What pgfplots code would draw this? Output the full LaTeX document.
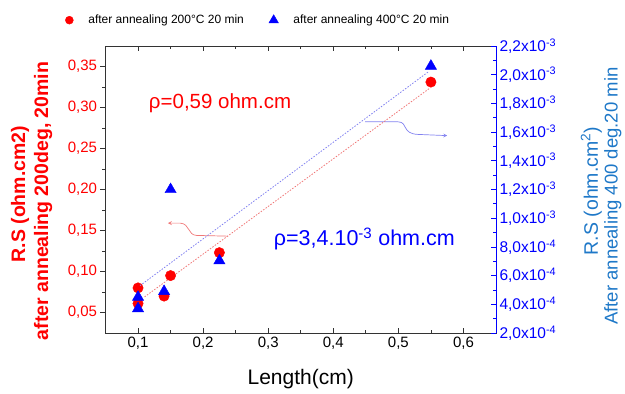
\documentclass[border=0pt]{standalone}
\usepackage{pgfplots}
\pgfplotsset{compat=1.18}
\usepackage{fontspec}
\setmainfont{Liberation Sans}
\definecolor{myred}{RGB}{255,0,0}
\definecolor{myblue}{RGB}{0,0,255}
\definecolor{lblblue}{RGB}{30,120,200}
\definecolor{fitred}{RGB}{240,120,120}
\definecolor{fitblue}{RGB}{130,130,240}
\begin{document}
\begin{tikzpicture}[x=1pt,y=1pt]
\path[use as bounding box] (-105.5,-61) rectangle (519.5,333);
% Axis A: frame and x axis
\begin{axis}[
  at={(0,0)}, anchor=south west,
  scale only axis, width=390.5pt, height=287pt,
  xmin=0.05, xmax=0.65, ymin=0.025, ymax=0.375,
  clip=false,
  axis line style={black!80, line width=0.8pt},
  xtick={0.1,0.2,0.3,0.4,0.5,0.6},
  minor x tick num=1,
  xtick pos=both, tick align=inside,
  ytick=\empty,
  major tick length=5pt, minor tick length=3pt,
  every tick/.style={black!80, line width=0.7pt},
  xticklabel style={font=\fontsize{15}{17}\selectfont, /pgf/number format/.cd, fixed, precision=1, use comma, assume math mode=true},
  legend style={draw=none, fill=none, at={(-0.111,1.09)}, anchor=west,
    font=\fontsize{12}{13}\selectfont,
    /tikz/every odd column/.append style={column sep=13pt},
    /tikz/every even column/.append style={column sep=23pt}},
  legend columns=2,
]
\addlegendimage{only marks, mark=*, mark size=4pt, color=myred}
\addlegendentry{after annealing 200°C 20 min}
\addlegendimage{only marks, mark=triangle*, mark size=5.5pt, color=myblue}
\addlegendentry{after annealing 400°C 20 min}
\node[font=\fontsize{21}{24}\selectfont] at (rel axis cs:0.5,-0.160) {Length(cm)};
\node[font=\fontsize{19.5}{22}\selectfont\bfseries, text=myred, rotate=90] at (rel axis cs:-0.219,0.484) {R.S (ohm.cm2)};
\node[font=\fontsize{19.5}{22}\selectfont\bfseries, text=myred, rotate=90] at (rel axis cs:-0.160,0.460) {after annealing 200deg, 20min};
\node[font=\fontsize{19.5}{22}\selectfont, text=lblblue, rotate=90] at (rel axis cs:1.244,0.495) {R.S (ohm.cm\textsuperscript{2})};
\node[font=\fontsize{18.5}{22}\selectfont, text=lblblue, rotate=90] at (rel axis cs:1.299,0.477) {After annealing 400 deg.20 min};
\node[font=\fontsize{20.5}{23}\selectfont, text=myred] at (axis cs:0.226,0.3058) {ρ=0,59 ohm.cm};
\node[font=\fontsize{21.5}{23}\selectfont, text=myblue] at (axis cs:0.4477,0.1395) {ρ=3,4.10\textsuperscript{-3} ohm.cm};
\draw[fitred, line width=0.7pt, -stealth] (axis cs:0.2385,0.1431) -- (axis cs:0.19,0.1440) .. controls (axis cs:0.176,0.1445) and (axis cs:0.180,0.158) .. (axis cs:0.165,0.1590) -- (axis cs:0.146,0.1590);
\draw[fitblue, line width=0.7pt, -stealth] (axis cs:0.449,0.2827) -- (axis cs:0.50,0.2825) .. controls (axis cs:0.515,0.2820) and (axis cs:0.505,0.2680) .. (axis cs:0.530,0.2672) -- (axis cs:0.575,0.2657);
\end{axis}
% Axis B: left y axis, red data
\begin{axis}[
  at={(0,0)}, anchor=south west,
  scale only axis, width=390.5pt, height=287pt,
  xmin=0.05, xmax=0.65, ymin=0.025, ymax=0.375,
  axis x line=none, axis y line*=left,
  axis line style={black!80, line width=0.8pt},
  tick align=outside,
  ytick={0.05,0.10,0.15,0.20,0.25,0.30,0.35},
  minor y tick num=1,
  major tick length=5pt, minor tick length=3pt,
  every tick/.style={black!80, line width=0.7pt},
  yticklabel style={text=myred, font=\fontsize{15}{17}\selectfont, /pgf/number format/.cd, fixed, fixed zerofill, precision=2, use comma, assume math mode=true},
]
\addplot[fitred, line width=0.8pt, dash pattern=on 1.5pt off 1.5pt] coordinates {(0.11,0.069) (0.549,0.324)};
\addplot[only marks, mark=*, mark size=5.2pt, color=myred] coordinates {
(0.1,0.080) (0.1,0.061) (0.14,0.070) (0.15,0.095) (0.225,0.123) (0.55,0.331)};
\end{axis}
% Axis C: right y axis, blue data
\begin{axis}[
  at={(0,0)}, anchor=south west,
  scale only axis, width=390.5pt, height=287pt,
  xmin=0.05, xmax=0.65, ymin=0.0002, ymax=0.0022,
  axis x line=none, axis y line*=right,
  axis line style={myblue, line width=0.8pt},
  tick align=inside,
  ytick={0.0002,0.0004,0.0006,0.0008,0.0010,0.0012,0.0014,0.0016,0.0018,0.0020,0.0022},
  yticklabels={{2,0x10\textsuperscript{-4}},{4,0x10\textsuperscript{-4}},{6,0x10\textsuperscript{-4}},{8,0x10\textsuperscript{-4}},{1,0x10\textsuperscript{-3}},{1,2x10\textsuperscript{-3}},{1,4x10\textsuperscript{-3}},{1,6x10\textsuperscript{-3}},{1,8x10\textsuperscript{-3}},{2,0x10\textsuperscript{-3}},{2,2x10\textsuperscript{-3}}},
  minor y tick num=1,
  major tick length=5pt, minor tick length=3pt,
  every tick/.style={myblue, line width=0.7pt},
  yticklabel style={text=myblue, font=\fontsize{15.5}{17}\selectfont},
  scaled y ticks=false,
]
\addplot[fitblue, line width=0.8pt, dash pattern=on 1.5pt off 1.5pt] coordinates {(0.103,0.00053) (0.546,0.00202)};
\addplot[only marks, mark=triangle*, mark size=6.5pt, color=myblue] coordinates {
(0.1,0.00045) (0.1,0.00037) (0.14,0.00049) (0.15,0.0012) (0.225,0.000704) (0.55,0.00206)};
\end{axis}
\end{tikzpicture}
\end{document}
